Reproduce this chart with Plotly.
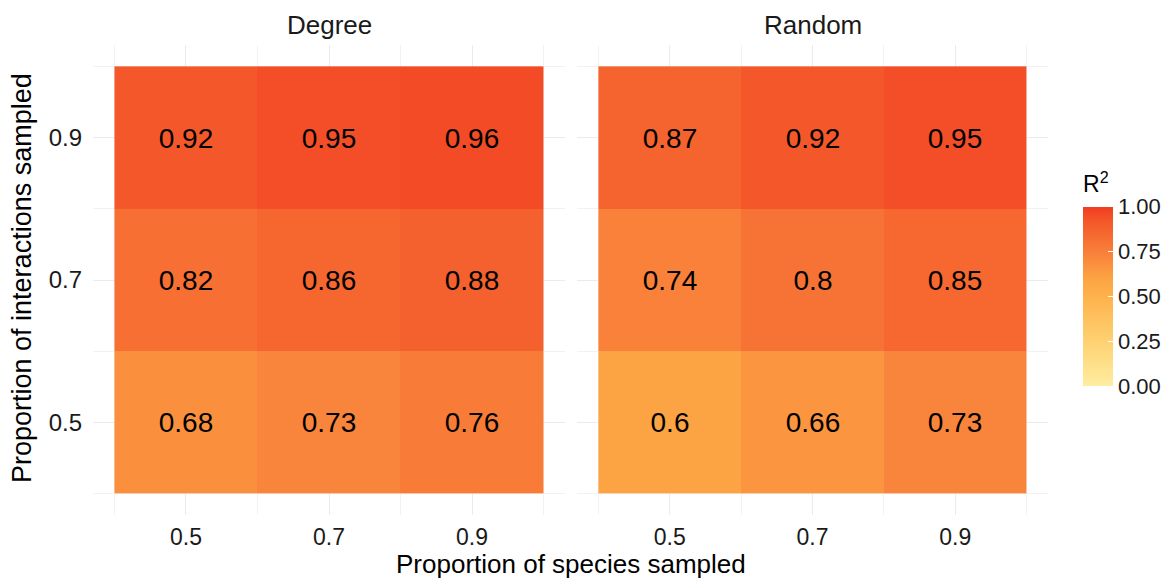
import plotly.graph_objects as go

species = [0.5, 0.7, 0.9]
interactions = [0.5, 0.7, 0.9]
facets = ["Degree", "Random"]
degree_r2 = [[0.68, 0.73, 0.76],
             [0.82, 0.86, 0.88],
             [0.92, 0.95, 0.96]]
random_r2 = [[0.6, 0.66, 0.73],
             [0.74, 0.8, 0.85],
             [0.87, 0.92, 0.95]]
cbar_ticks = [0, 0.25, 0.5, 0.75, 1.0]
cbar_labels = ["0.00", "0.25", "0.50", "0.75", "1.00"]

W, H = 1170, 580
FONT = "Liberation Sans, Arial, sans-serif"

fig = go.Figure()
for i, z in enumerate([degree_r2, random_r2]):
    sfx = "" if i == 0 else "2"
    fig.add_trace(go.Heatmap(
        x=species, y=interactions, z=z,
        coloraxis="coloraxis",
        texttemplate="%{z}",
        textfont=dict(size=28, color="black", family=FONT),
        xaxis="x" + sfx, yaxis="y" + sfx,
        hoverinfo="skip",
    ))

ydom = [1 - 515 / H, 1 - 45 / H]
xdoms = [[93 / W, 565 / W], [577 / W, 1048 / W]]

grid = "#EBEBEB"
def xaxis_cfg(dom, anchor):
    return dict(domain=dom, anchor=anchor, range=[0.37, 1.03],
                tickmode="array", tickvals=species,
                ticktext=[str(v) for v in species],
                showgrid=True, gridcolor=grid, gridwidth=1.2,
                minor=dict(tickmode="array", tickvals=[0.4, 0.6, 0.8, 1.0],
                           showgrid=True, gridcolor="#F2F2F2", gridwidth=1),
                zeroline=False, showline=False, ticks="",
                tickfont=dict(size=23, color="#1a1a1a", family=FONT),
                ticklabelstandoff=6)

def yaxis_cfg(anchor, show):
    return dict(domain=ydom, anchor=anchor, range=[0.37, 1.03],
                tickmode="array", tickvals=interactions,
                ticktext=[str(v) for v in interactions],
                showticklabels=show,
                showgrid=True, gridcolor=grid, gridwidth=1.2,
                minor=dict(tickmode="array", tickvals=[0.4, 0.6, 0.8, 1.0],
                           showgrid=True, gridcolor="#F2F2F2", gridwidth=1),
                zeroline=False, showline=False, ticks="",
                tickfont=dict(size=24, color="#1a1a1a", family=FONT),
                ticklabelstandoff=10)

fig.update_layout(
    width=W, height=H,
    margin=dict(l=0, r=0, t=0, b=0),
    paper_bgcolor="white", plot_bgcolor="white",
    font=dict(family=FONT, color="black"),
    xaxis=xaxis_cfg(xdoms[0], "y"),
    yaxis=yaxis_cfg("x", True),
    xaxis2=xaxis_cfg(xdoms[1], "y2"),
    yaxis2=yaxis_cfg("x2", False),
    coloraxis=dict(
        cmin=0, cmax=1,
        colorscale=[[0, "#FFEDA0"], [0.25, "#FED172"], [0.5, "#FEB24C"],
                    [0.6, "#FCA443"], [0.74, "#F9813A"], [0.92, "#F4582A"],
                    [1, "#F03D22"]],
        colorbar=dict(
            title=dict(text="R<sup>2</sup>", font=dict(size=23, family=FONT), side="top"),
            x=1083 / W, xanchor="left", xref="paper",
            y=1 - 386 / H, yanchor="bottom", ypad=0, xpad=0,
            thickness=30, thicknessmode="pixels",
            len=214, lenmode="pixels",
            tickmode="array", tickvals=cbar_ticks, ticktext=cbar_labels,
            ticks="inside", tickcolor="white", ticklen=5,
            tickfont=dict(size=22, color="#1a1a1a", family=FONT),
            outlinewidth=0,
        ),
    ),
    showlegend=False,
)

ann = []
for name, dom in zip(facets, xdoms):
    ann.append(dict(text=name, x=(dom[0] + dom[1]) / 2, y=1 - 25 / H,
                    xref="paper", yref="paper", showarrow=False,
                    font=dict(size=26, color="#1a1a1a", family=FONT),
                    xanchor="center", yanchor="middle"))
ann.append(dict(text="Proportion of species sampled", x=571 / W, y=1 - 564 / H,
                xref="paper", yref="paper", showarrow=False,
                font=dict(size=26, color="black", family=FONT),
                xanchor="center", yanchor="middle"))
ann.append(dict(text="Proportion of interactions sampled", x=22 / W, y=1 - 278 / H,
                xref="paper", yref="paper", showarrow=False, textangle=-90,
                font=dict(size=27, color="black", family=FONT),
                xanchor="center", yanchor="middle"))
fig.update_layout(annotations=ann)

fig.write_html("out.html")
